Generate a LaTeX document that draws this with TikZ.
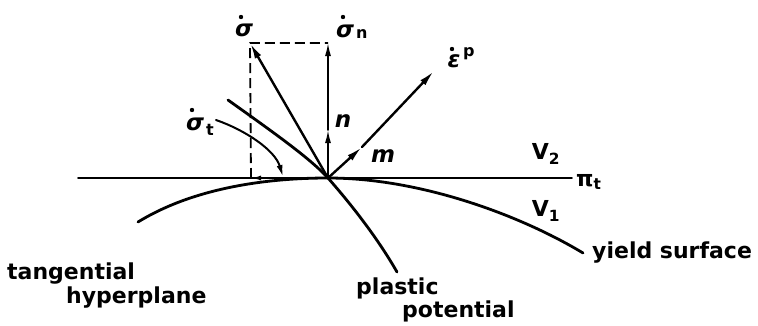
\documentclass[tikz,border=0pt]{standalone}
\usepackage{fontspec}
\setmainfont{DejaVu Sans}
\usetikzlibrary{arrows.meta}
\begin{document}
\begin{tikzpicture}[x=1pt,y=-1pt,line cap=round,line join=round,
  lbl/.style={font=\fontsize{22}{24}\selectfont\bfseries,inner sep=0pt},
  sym/.style={font=\fontsize{23}{24}\selectfont\bfseries\itshape,inner sep=0pt},
  small/.style={font=\fontsize{16}{17}\selectfont\bfseries,inner sep=0pt,anchor=base west},
  curve/.style={line width=2.8pt},
  thin line/.style={line width=1.8pt},
  vec/.style={line width=2.4pt,-{Latex[length=16pt,width=7pt]}},
  vecthin/.style={line width=1.6pt,-{Latex[length=13pt,width=6pt]}},
  dash line/.style={line width=1.8pt,dash pattern=on 10pt off 5pt,line cap=butt},
  dotmark/.style={fill=black}]
\useasboundingbox (0,0) rectangle (758,325);
% points
\coordinate (O) at (328,178);
\coordinate (S) at (250,43);
\coordinate (Sn) at (328,43);
\coordinate (F) at (251,178);
\coordinate (ntip) at (328,130);
\coordinate (mtip) at (362,147);
\coordinate (E) at (434,71);
\coordinate (HL) at (78,178);
\coordinate (HR) at (572,178);
\coordinate (Y1) at (138,222);
\coordinate (Y2) at (583,253);
\coordinate (P1) at (228,100);
\coordinate (P2) at (397,272);
\coordinate (T1) at (216,120);
\coordinate (T2) at (283,177);
% tangential hyperplane
\draw[thin line] (HL) -- (HR);
% yield surface
\draw[curve] (Y1) .. controls (190,190) and (260,178) .. (O)
  .. controls (420,178) and (520,215) .. (Y2);
% plastic potential
\draw[curve] (P1) .. controls (270,130) and (310,158) .. (O)
  .. controls (350,203) and (377,237) .. (P2);
% dashed rectangle
\draw[dash line] (F) -- (S) -- (Sn);
% sigma dot
\draw[vec] (O) -- (S);
% normal component
\draw[vecthin] (O) -- (ntip);
\draw[vecthin] (ntip) -- (Sn);
% plastic strain rate
\draw[vec] (O) -- (mtip);
\draw[vec] (mtip) -- (E);
% tangential component
\draw[line width=1.8pt,-{Latex[length=10pt,width=5pt]}] (O) -- (F);
% sigma_t arc
\draw[line width=2pt,-{Latex[length=12pt,width=6pt]}] (T1) .. controls (245,130) and (275,150) .. (T2);
% labels
\node[sym] (lsig) at (244,30) {σ};
\fill[dotmark] (241,17) circle (2.2pt);
\node[sym] (lsign) at (345,31) {σ};
\node[small] (lsignsub) at (356,38) {n};
\fill[dotmark] (343,17) circle (2.2pt);
\node[sym] (leps) at (454,61) {ε};
\node[small] (lepssup) at (463,56) {p};
\fill[dotmark] (452,49) circle (2.2pt);
\node[sym] (lsigt) at (195,124) {σ};
\node[small] (lsigtsub) at (206,135) {t};
\fill[dotmark] (192,110) circle (2.2pt);
\node[sym] (ln) at (343,121) {n};
\node[sym] (lm) at (383,156) {m};
\node[lbl] (lv2) at (546,154) {V\textsubscript{2}};
\node[lbl] (lv1) at (546,211) {V\textsubscript{1}};
\node[lbl,anchor=west] (lpi) at (576,182) {π\textsubscript{t}};
\node[lbl,anchor=west] (lys) at (592,253) {yield surface};
\node[lbl,anchor=west] (ltan) at (7,274) {tangential};
\node[lbl,anchor=west] (lhyp) at (66,298) {hyperplane};
\node[lbl,anchor=west] (lpl) at (356,288) {plastic};
\node[lbl,anchor=west] (lpo) at (402,311) {potential};
\end{tikzpicture}
\end{document}
